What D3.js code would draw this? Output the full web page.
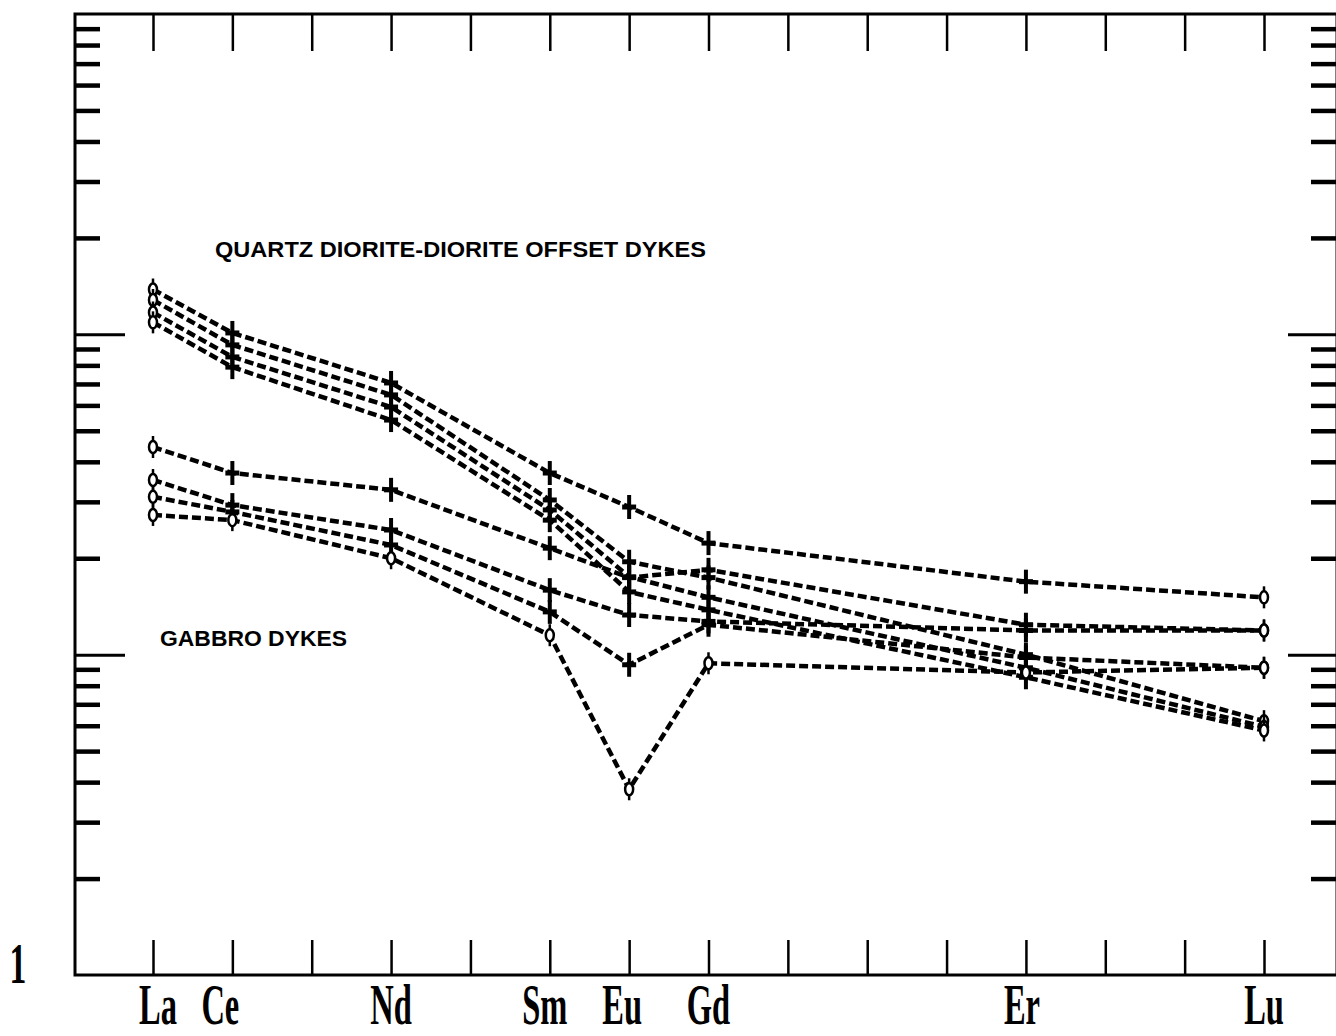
<!DOCTYPE html>
<html>
<head>
<meta charset="utf-8">
<script src="https://cdn.jsdelivr.net/npm/d3@7"></script>
<style>
  body { margin: 0; background: #fff; }
  svg { display: block; }
</style>
</head>
<body>
<div id="chart"></div>
<script>
// REE, chondrite normalised
var allRee = ["La","Ce","Pr","Nd","Pm","Sm","Eu","Gd","Tb","Dy","Ho","Er","Tm","Yb","Lu"];
var ree = ["La","Ce","Nd","Sm","Eu","Gd","Er","Lu"];
var labelRee = ["La","Ce","Nd","Sm","Eu","Gd","Er","Lu"];

// quartz diorite - diorite offset dykes
var qd1 = [138, 101, 70.5, 36.9, 28.9, 22.3, 16.9, 15.1];
var qd2 = [128, 92.7, 64.7, 30.4, 19.5, 17.4, 10.0, 6.2];
var qd3 = [117, 85, 59.3, 28.3, 17.5, 15.1, 9.1, 5.95];
var qd4 = [109, 79, 54, 26.3, 15.7, 13.8, 8.5, 5.8];

// gabbro dykes
var gb1 = [44.5, 36.9, 32.7, 21.5, 17.4, 18.4, 12.4, 11.9];
var gb2 = [35.1, 29.3, 24.5, 15.9, 13.3, 12.7, 11.9, 11.9];
var gb3 = [31.1, 27.9, 22.0, 13.6, 9.3, 12.4, 9.8, 9.1];
var gb4 = [27.3, 26.3, 20.0, 11.5, 3.8, 9.4, 8.8, 9.1];

var series = [
  {name: "qd1", values: qd1, mark: "plus"},
  {name: "qd2", values: qd2, mark: "plus"},
  {name: "qd3", values: qd3, mark: "plus"},
  {name: "qd4", values: qd4, mark: "plus"},
  {name: "gb1", values: gb1, mark: "plus"},
  {name: "gb2", values: gb2, mark: "plus"},
  {name: "gb3", values: gb3, mark: "plus"},
  {name: "gb4", values: gb4, mark: "circle"}
];

var W = 1336, H = 1036;
var plotL = 75, plotR = 1337, plotT = 14, plotB = 975;

var svg = d3.select("#chart").append("svg").attr("width", W).attr("height", H);

var x = d3.scalePoint().domain(allRee).range([153, 1264]);
var y = d3.scaleLog().domain([1, 1000]).range([plotB, plotT]);

// frame
svg.append("rect").attr("x", plotL).attr("y", plotT)
  .attr("width", plotR - plotL).attr("height", plotB - plotT)
  .attr("fill", "none").attr("stroke", "#000").attr("stroke-width", 3);

// element ticks, top and bottom
svg.append("g").attr("transform", "translate(0," + plotT + ")")
  .call(d3.axisBottom(x).tickSize(37).tickFormat(""))
  .call(function (g) { g.select(".domain").remove(); })
  .selectAll("line").attr("stroke", "#000").attr("stroke-width", 2.5);
svg.append("g").attr("transform", "translate(0," + plotB + ")")
  .call(d3.axisTop(x).tickSize(35).tickFormat(""))
  .call(function (g) { g.select(".domain").remove(); })
  .selectAll("line").attr("stroke", "#000").attr("stroke-width", 2.5);

// log ticks, left and right
var minor = y.ticks().filter(function (d) { return d > 1 && d < 1000; });
function isDecade(d) { return Math.abs(Math.log10(d) - Math.round(Math.log10(d))) < 1e-9; }
var lt = svg.append("g").attr("transform", "translate(" + plotL + ",0)")
  .call(d3.axisRight(y).tickValues(minor).tickSize(25).tickFormat(""));
lt.select(".domain").remove();
lt.selectAll(".tick line").attr("stroke", "#000")
  .attr("stroke-width", function (d) { return isDecade(d) ? 3 : 4.5; })
  .attr("x2", function (d) { return isDecade(d) ? 50 : 25; });
var rt = svg.append("g").attr("transform", "translate(" + (plotR - 1) + ",0)")
  .call(d3.axisLeft(y).tickValues(minor).tickSize(25).tickFormat(""));
rt.select(".domain").remove();
rt.selectAll(".tick line").attr("stroke", "#000")
  .attr("stroke-width", function (d) { return isDecade(d) ? 3 : 4.5; })
  .attr("x2", function (d) { return isDecade(d) ? -48 : -25; });

// element labels
var labelShift = {La: 5, Ce: -12, Sm: -5, Eu: -7, Er: -4};
svg.append("g").selectAll("text").data(labelRee).enter().append("text")
  .attr("transform", function (d) {
    return "translate(" + (x(d) + (labelShift[d] || 0)) + ",1024) scale(0.58,1)";
  })
  .attr("text-anchor", "middle")
  .style("font-family", "'Liberation Serif', serif")
  .style("font-weight", "bold")
  .style("font-size", "56px")
  .text(function (d) { return d; });

svg.append("text")
  .attr("transform", "translate(18," + (y(1) + 8) + ") scale(0.6,1)")
  .attr("text-anchor", "middle")
  .style("font-family", "'Liberation Serif', serif")
  .style("font-weight", "bold")
  .style("font-size", "56px")
  .text("1");

// group labels
svg.append("text").attr("x", 215).attr("y", 257)
  .attr("textLength", 491).attr("lengthAdjust", "spacingAndGlyphs")
  .style("font-family", "'Liberation Sans', Arial, sans-serif")
  .style("font-weight", "bold").style("font-size", "22px")
  .text("QUARTZ DIORITE-DIORITE OFFSET DYKES");
svg.append("text").attr("x", 160).attr("y", 646)
  .attr("textLength", 187).attr("lengthAdjust", "spacingAndGlyphs")
  .style("font-family", "'Liberation Sans', Arial, sans-serif")
  .style("font-weight", "bold").style("font-size", "22px")
  .text("GABBRO DYKES");

// lines
var line = d3.line()
  .x(function (d, i) { return x(ree[i]); })
  .y(function (d) { return y(d); });

svg.append("g").selectAll("path").data(series).enter().append("path")
  .attr("d", function (s) { return line(s.values); })
  .attr("fill", "none")
  .attr("stroke", "#000")
  .attr("stroke-width", 4.5)
  .attr("stroke-dasharray", "9 4");

// markers
series.forEach(function (s) {
  var g = svg.append("g");
  s.values.forEach(function (v, i) {
    var px = x(ree[i]), py = y(v);
    var end = (i === 0 || i === s.values.length - 1);
    if (s.mark === "circle" || end) {
      g.append("line").attr("x1", px).attr("x2", px).attr("y1", py - 11).attr("y2", py + 11)
        .attr("stroke", "#000").attr("stroke-width", 2.5);
      g.append("ellipse").attr("cx", px).attr("cy", py).attr("rx", 4).attr("ry", 6)
        .attr("fill", "#fff").attr("stroke", "#000").attr("stroke-width", 2.5);
    } else {
      g.append("line").attr("x1", px).attr("x2", px).attr("y1", py - 12).attr("y2", py + 12)
        .attr("stroke", "#000").attr("stroke-width", 4);
      g.append("line").attr("x1", px - 7).attr("x2", px + 7).attr("y1", py).attr("y2", py)
        .attr("stroke", "#000").attr("stroke-width", 5);
    }
  });
});
</script>
</body>
</html>
